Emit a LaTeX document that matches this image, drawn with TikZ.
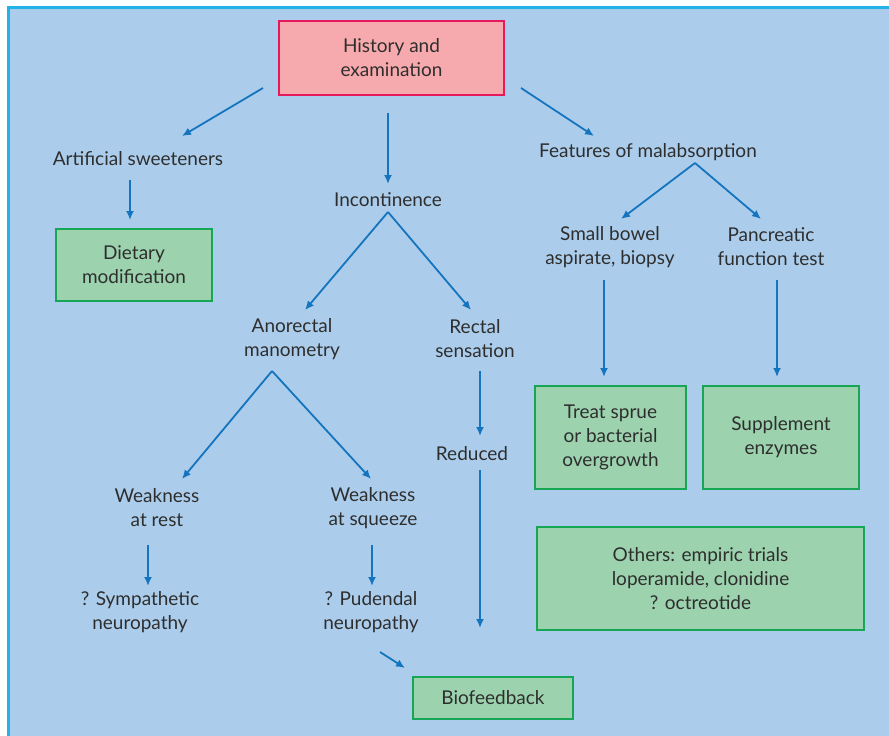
\documentclass[tikz,border=0pt]{standalone}
\usepackage{fontspec}
\setmainfont{Lato}
\usetikzlibrary{arrows.meta}
\definecolor{bgc}{HTML}{ABCDEB}
\definecolor{framec}{HTML}{22B2E8}
\definecolor{pinkf}{HTML}{F7AAAD}
\definecolor{pinkd}{HTML}{E5195C}
\definecolor{greenf}{HTML}{9CD3AE}
\definecolor{greend}{HTML}{17A655}
\definecolor{arrowc}{HTML}{1474BE}
\definecolor{txtc}{HTML}{2E2E2E}
\begin{document}
\begin{tikzpicture}[x=1pt,y=-1pt,
  lbl/.style={text=txtc,font=\fontsize{19}{24}\selectfont,align=center,inner sep=0pt},
  pinkbox/.style={lbl,draw=pinkd,fill=pinkf,line width=2pt,minimum width=#1},
  greenbox/.style={lbl,draw=greend,fill=greenf,line width=2pt},
  arr/.style={draw=arrowc,line width=1.8pt,-{Latex[length=9pt,width=8pt]}}]
\useasboundingbox (0,0) rectangle (889,736);
\clip (0,0) rectangle (889,736);
\fill[white] (0,0) rectangle (889,736);
\draw[framec,fill=bgc,line width=3pt] (8,7.5) rectangle (905,750);
% boxes
\node[pinkbox=225pt,minimum height=74pt] (hist) at (391.5,58) {History and\\examination};
\node[greenbox,minimum width=156pt,minimum height=72pt] (diet) at (134,265) {Dietary\\modification};
\node[greenbox,minimum width=151pt,minimum height=103pt] (sprue) at (610.5,437.5) {Treat sprue\\or bacterial\\overgrowth};
\node[greenbox,minimum width=156pt,minimum height=103pt] (enz) at (781,437.5) {Supplement\\enzymes};
\node[greenbox,minimum width=327pt,minimum height=103pt] (others) at (700.5,578.5) {Others: empiric trials\\loperamide, clonidine\\? octreotide};
\node[greenbox,minimum width=160pt,minimum height=42pt] (bio) at (493,698) {Biofeedback};
% labels
\node[lbl] (art) at (138,159) {Artificial sweeteners};
\node[lbl] (inc) at (388,200) {Incontinence};
\node[lbl] (mal) at (648,152) {Features of malabsorption};
\node[lbl] (small) at (610,247) {Small bowel\\aspirate, biopsy};
\node[lbl] (panc) at (771,247) {Pancreatic\\function test};
\node[lbl] (ano) at (292,339) {Anorectal\\manometry};
\node[lbl] (rect) at (475,339) {Rectal\\sensation};
\node[lbl] (red) at (472,454) {Reduced};
\node[lbl] (wrest) at (157,508) {Weakness\\at rest};
\node[lbl] (wsq) at (373,508) {Weakness\\at squeeze};
\node[lbl] (symp) at (140,612) {? Sympathetic\\neuropathy};
\node[lbl] (pud) at (371,612) {? Pudendal\\neuropathy};
% arrow end points
\coordinate (h1) at (263,88); \coordinate (a1) at (182,136);
\coordinate (h2) at (388,113); \coordinate (i1) at (388,184);
\coordinate (h3) at (521,88); \coordinate (m1) at (594,136);
\coordinate (a2) at (130,180); \coordinate (d1) at (130,220);
\coordinate (i2) at (388,212); \coordinate (an1) at (305,310); \coordinate (r1) at (471,310);
\coordinate (m2) at (695,163); \coordinate (s1) at (621,219); \coordinate (p1) at (761,219);
\coordinate (s2) at (604,280); \coordinate (sp1) at (604,377);
\coordinate (p2) at (777,280); \coordinate (e1) at (777,377);
\coordinate (an2) at (272,371); \coordinate (wr1) at (182,479); \coordinate (ws1) at (371,479);
\coordinate (r2) at (480,371); \coordinate (rd1) at (480,436);
\coordinate (rd2) at (480,470); \coordinate (rb1) at (480,628);
\coordinate (wr2) at (148,545); \coordinate (sy1) at (148,586);
\coordinate (ws2) at (372,545); \coordinate (pu1) at (372,586);
\coordinate (pu2) at (380,652); \coordinate (b1) at (405,668);
% arrows
\draw[arr] (h1) -- (a1);
\draw[arr] (h2) -- (i1);
\draw[arr] (h3) -- (m1);
\draw[arr] (a2) -- (d1);
\draw[arr] (i2) -- (an1);
\draw[arr] (i2) -- (r1);
\draw[arr] (m2) -- (s1);
\draw[arr] (m2) -- (p1);
\draw[arr] (s2) -- (sp1);
\draw[arr] (p2) -- (e1);
\draw[arr] (an2) -- (wr1);
\draw[arr] (an2) -- (ws1);
\draw[arr] (r2) -- (rd1);
\draw[arr] (rd2) -- (rb1);
\draw[arr] (wr2) -- (sy1);
\draw[arr] (ws2) -- (pu1);
\draw[arr] (pu2) -- (b1);
\end{tikzpicture}
\end{document}
